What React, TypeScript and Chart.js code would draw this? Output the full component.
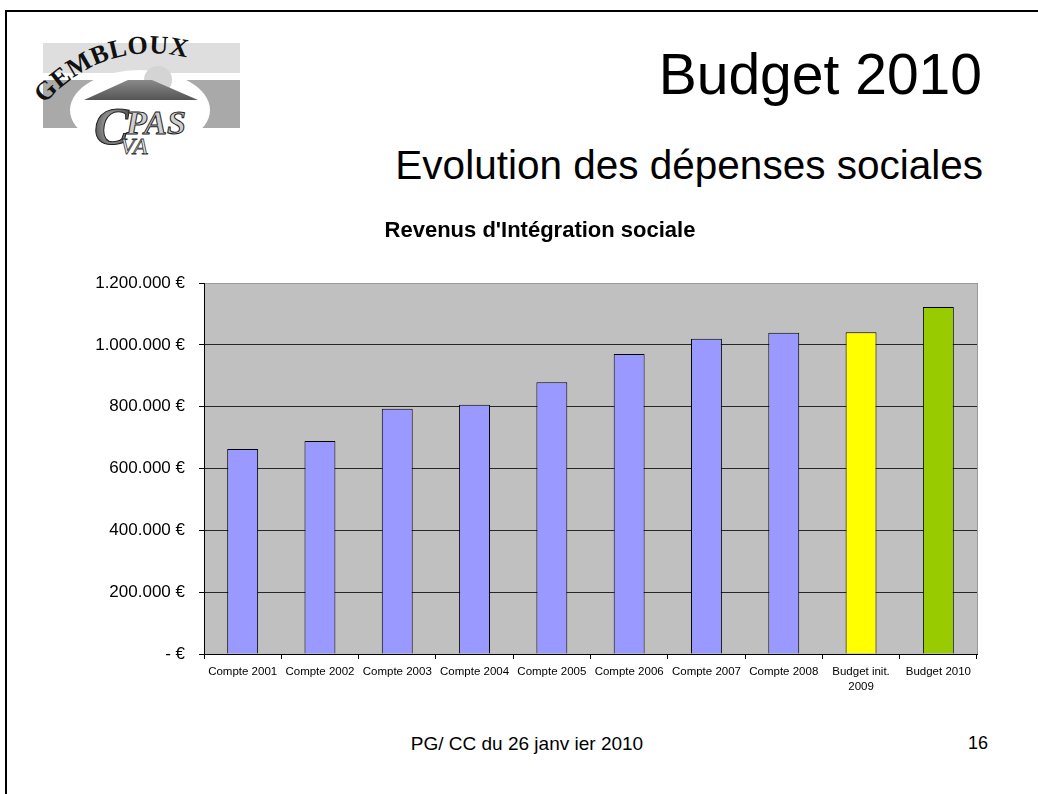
import React, { useEffect, useRef } from 'react';
import { Chart, registerables } from 'chart.js';

Chart.register(...registerables);

const categories: (string | string[])[] = [
  'Compte 2001',
  'Compte 2002',
  'Compte 2003',
  'Compte 2004',
  'Compte 2005',
  'Compte 2006',
  'Compte 2007',
  'Compte 2008',
  ['Budget init.', '2009'],
  'Budget 2010',
];
const depenses = [663000, 689000, 793000, 806000, 879000, 970000, 1020000, 1039000, 1041000, 1122000];
const barColors = ['#9999FF', '#9999FF', '#9999FF', '#9999FF', '#9999FF', '#9999FF', '#9999FF', '#9999FF', '#FFFF00', '#99CC00'];
const yMin = 0;
const yMax = 1200000;
const yStep = 200000;
const chartTitle = "Revenus d'Intégration sociale";

const FONT = "'Liberation Sans', Arial, sans-serif";
const CANVAS_LEFT = 80;
const CANVAS_TOP = 210;

function formatEuro(v: number): string {
  if (v === 0) return '- €';
  return String(v).replace(/\B(?=(\d{3})+(?!\d))/g, '.') + ' €';
}

const plotBg = {
  id: 'plotBg',
  beforeDraw(chart: any) {
    const { ctx, chartArea: a } = chart;
    ctx.save();
    ctx.fillStyle = '#C0C0C0';
    ctx.fillRect(a.left, a.top, a.right - a.left, a.bottom - a.top);
    ctx.restore();
  },
  beforeDatasetsDraw(chart: any) {
    const { ctx, chartArea: a } = chart;
    ctx.save();
    ctx.strokeStyle = '#9a9a9a';
    ctx.lineWidth = 1;
    ctx.beginPath();
    ctx.moveTo(Math.round(a.right) + 0.5, a.top);
    ctx.lineTo(Math.round(a.right) + 0.5, a.bottom);
    ctx.stroke();
    ctx.restore();
  },
};

const titleDraw = {
  id: 'titleDraw',
  afterDraw(chart: any) {
    const { ctx } = chart;
    ctx.save();
    ctx.fillStyle = '#000';
    ctx.font = `bold 22px ${FONT}`;
    ctx.textAlign = 'center';
    ctx.textBaseline = 'middle';
    ctx.fillText(chartTitle, 540 - CANVAS_LEFT, 21);
    ctx.restore();
  },
};

function BudgetChart() {
  const ref = useRef<HTMLCanvasElement | null>(null);
  useEffect(() => {
    if (!ref.current) return;
    const chart = new Chart(ref.current, {
      type: 'bar',
      data: {
        labels: categories,
        datasets: [
          {
            data: depenses,
            backgroundColor: barColors,
            borderColor: '#000000',
            borderWidth: 1,
            barPercentage: 0.4,
            categoryPercentage: 1,
          },
        ],
      },
      plugins: [plotBg, titleDraw],
      options: {
        responsive: false,
        animation: false,
        devicePixelRatio: 1,
        layout: { padding: { left: 0, right: 13, top: 73, bottom: 0 } },
        plugins: {
          legend: { display: false },
          tooltip: { enabled: false },
          title: { display: false },
        },
        scales: {
          x: {
            offset: true,
            grid: {
              display: true,
              drawOnChartArea: false,
              drawTicks: true,
              tickLength: 5,
              offset: true,
              color: '#000',
            },
            border: { display: true, color: '#000', width: 1 },
            ticks: {
              color: '#000',
              font: { family: FONT, size: 11.5, lineHeight: 1.35 },
              padding: 5,
              maxRotation: 0,
              minRotation: 0,
              autoSkip: false,
            },
            afterFit: (scale: any) => {
              scale.height = 56;
            },
          },
          y: {
            min: yMin,
            max: yMax,
            grid: {
              color: (ctx: any) => (ctx.tick && ctx.tick.value === yMax ? '#9a9a9a' : '#262626'),
              tickColor: '#000',
              lineWidth: 1,
              drawTicks: true,
              tickLength: 5,
            },
            border: { display: true, color: '#000', width: 1 },
            ticks: {
              stepSize: yStep,
              color: '#000',
              font: { family: FONT, size: 17 },
              padding: 14,
              callback: (v: any) => formatEuro(Number(v)),
            },
            afterFit: (scale: any) => {
              scale.width = 124;
            },
          },
        },
      },
    });
    return () => chart.destroy();
  }, []);
  return (
    <canvas
      ref={ref}
      width={910}
      height={500}
      style={{ position: 'absolute', left: CANVAS_LEFT, top: CANVAS_TOP, width: 910, height: 500 }}
    />
  );
}

function Logo() {
  return (
    <svg width={260} height={170} style={{ position: 'absolute', left: 0, top: 0 }}>
      <defs>
        <path id="arcPath" d="M 44 104 Q 118 24 224 70" />
        <linearGradient id="roofG" x1="0" y1="0" x2="0" y2="1">
          <stop offset="0" stopColor="#8a8a8a" />
          <stop offset="1" stopColor="#555" />
        </linearGradient>
        <radialGradient id="cG" cx="0.5" cy="0.5" r="0.6">
          <stop offset="0" stopColor="#bbb" />
          <stop offset="1" stopColor="#444" />
        </radialGradient>
      </defs>
      <rect x={43} y={43} width={197} height={30} fill="#dedede" />
      <rect x={43} y={80} width={197} height={48} fill="#a9a9a9" />
      <ellipse cx={140} cy={110} rx={70} ry={40} fill="#ffffff" />
      <circle cx={158} cy={80} r={14} fill="#d4d4d4" />
      <polygon points="84,100 198,100 152,80 128,80" fill="url(#roofG)" />
      <text
        fontFamily="'Liberation Serif', 'DejaVu Serif', serif"
        fontWeight="bold"
        fontSize={26}
        fill="#111"
        letterSpacing={0.5}
      >
        <textPath href="#arcPath">GEMBLOUX</textPath>
      </text>
      <text
        x={94}
        y={144}
        fontFamily="'Liberation Serif', 'DejaVu Serif', serif"
        fontStyle="italic"
        fontWeight="bold"
        fontSize={52}
        fill="url(#cG)"
        stroke="#222"
        strokeWidth={1}
      >
        C
      </text>
      <text
        x={126}
        y={134}
        fontFamily="'Liberation Serif', 'DejaVu Serif', serif"
        fontStyle="italic"
        fontWeight="bold"
        fontSize={34}
        fill="#cfcfcf"
        stroke="#222"
        strokeWidth={1}
      >
        PAS
      </text>
      <text
        x={120}
        y={154}
        fontFamily="'Liberation Serif', 'DejaVu Serif', serif"
        fontStyle="italic"
        fontSize={24}
        fill="#eee"
        stroke="#333"
        strokeWidth={0.8}
      >
        VA
      </text>
    </svg>
  );
}

export default function App() {
  return (
    <div
      style={{
        position: 'absolute',
        left: 0,
        top: 0,
        width: 1038,
        height: 794,
        background: '#fff',
        overflow: 'hidden',
        fontFamily: FONT,
        color: '#000',
      }}
    >
      <div style={{ position: 'absolute', left: 5, top: 10, width: 2, height: 800, background: '#000' }} />
      <div style={{ position: 'absolute', left: 5, top: 10, width: 1040, height: 2, background: '#000' }} />
      <Logo />
      <div
        style={{
          position: 'absolute',
          right: 56,
          top: 46,
          fontSize: 57,
          lineHeight: 1,
          whiteSpace: 'nowrap',
        }}
      >
        Budget 2010
      </div>
      <div
        style={{
          position: 'absolute',
          right: 55,
          top: 145,
          fontSize: 40.5,
          lineHeight: 1,
          whiteSpace: 'nowrap',
        }}
      >
        Evolution des dépenses sociales
      </div>
      <BudgetChart />
      <div
        style={{
          position: 'absolute',
          left: 327,
          width: 400,
          top: 734,
          fontSize: 19,
          lineHeight: 1,
          textAlign: 'center',
          whiteSpace: 'pre',
        }}
      >
        PG/ CC du 26 janv ier 2010
      </div>
      <div
        style={{
          position: 'absolute',
          right: 50,
          top: 734,
          fontSize: 18,
          lineHeight: 1,
          whiteSpace: 'nowrap',
        }}
      >
        16
      </div>
    </div>
  );
}
